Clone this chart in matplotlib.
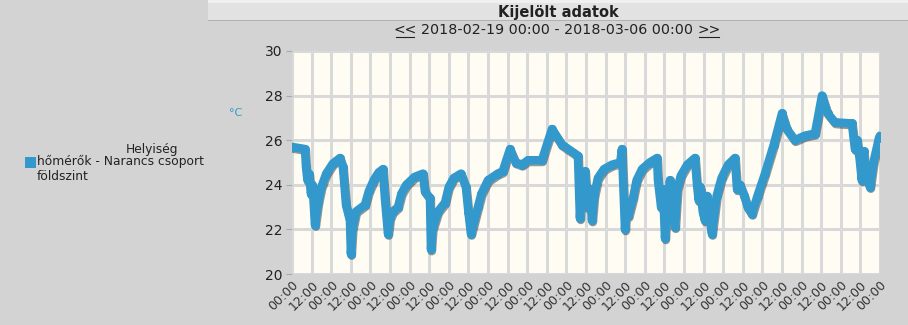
import matplotlib
matplotlib.use("Agg")
import matplotlib.pyplot as plt
import matplotlib.dates as mdates
import matplotlib.patheffects as pe
from matplotlib.patches import Rectangle
import pandas as pd

# ---- data ----
start = "2018-02-19 00:00"
end = "2018-03-06 00:00"
hours = [0, 8.0, 8.6, 9.5, 10.5, 11.6, 12.5, 13.2, 14.1, 16, 18, 21, 25, 29.4, 31.2, 33.1, 35.5,
         36.1, 37, 39.2, 44.7, 47, 50, 53, 55.7, 56.9, 58.8, 60, 61.8, 64.9, 67, 70, 75, 80.2,
         81.4, 84.5, 85.1, 86, 89.4, 93.7, 96, 99, 103.5, 106.5, 108, 109.6, 113.9, 116, 120,
         126, 129, 133.5, 137, 140.8, 144.5, 153.0, 159.2, 165.3, 175.1, 176.3, 177.5, 178.5,
         179.4, 181, 182.5, 183.7, 185, 187.3, 191, 195.9, 201, 202.0, 203.9, 205, 206, 208.8,
         211, 214.3, 219, 223.5, 224.1, 226, 227.2, 228.4, 229.5, 231.4, 233, 234.5, 236, 238,
         242, 246.7, 248, 249, 250, 251.5, 252.8, 254, 255.5, 257.1, 260, 263, 267, 271.2,
         272.5, 274.3, 277, 279, 281.6, 285, 289.6, 295, 300.0, 303, 307.9, 314, 320.2, 324.5,
         328, 332.4, 342.8, 344.7, 346, 347.5, 348.9, 350, 351.5, 353.9, 356, 359.4, 360]
temps = [25.7, 25.6, 24.8, 24.2, 24.5, 23.6, 24.0, 23.3, 22.2, 23.2, 23.9, 24.5, 24.95, 25.2, 24.8,
         23.1, 22.4, 20.9, 22.0, 22.8, 23.1, 23.7, 24.2, 24.55, 24.7, 23.4, 21.8, 22.5, 22.8,
         23.0, 23.6, 24.0, 24.35, 24.5, 23.7, 23.4, 21.1, 22.0, 22.8, 23.2, 23.9, 24.3, 24.5,
         23.9, 22.8, 21.8, 23.0, 23.6, 24.2, 24.5, 24.6, 25.6, 25.0, 24.9, 25.1, 25.1, 26.5,
         25.8, 25.3, 22.5, 24.0, 23.2, 24.6, 23.0, 23.8, 22.4, 23.5, 24.3, 24.7, 24.9, 25.0,
         25.6, 22.0, 23.2, 22.6, 23.4, 24.2, 24.7, 25.0, 25.2, 24.2, 23.0, 23.8, 21.6, 23.0,
         24.2, 23.2, 22.1, 23.8, 24.4, 24.9, 25.2, 24.0, 23.3, 23.9, 22.8, 22.4, 23.5, 22.6,
         21.8, 23.5, 24.3, 24.9, 25.2, 23.8, 24.0, 23.5, 23.0, 22.7, 23.5, 24.5, 25.8, 27.2,
         26.5, 26.0, 26.2, 26.3, 28.0, 27.2, 26.8, 26.75, 25.6, 26.0, 25.2, 24.2, 25.5, 24.4,
         23.9, 25.0, 26.1, 26.2]
assert len(hours) == len(temps)
yticks = [20, 22, 24, 26, 28, 30]
title = "Kijelölt adatok"
legend_title = "Helyiség"
series_name = "hőmérők - Narancs csoport\nföldszint"
unit = "°C"

times = pd.Timestamp(start) + pd.to_timedelta(hours, unit="h")

BG = "#d3d3d3"
BLUE = "#3399cc"
plt.rcParams['font.family'] = ['DejaVu Sans']

fig = plt.figure(figsize=(9.08, 3.25), dpi=100, facecolor=BG)
W, H = 908, 325

# header band
hdr = fig.add_axes([208 / W, 1 - 21 / H, 1 - 208 / W, 21 / H])
hdr.set_xlim(0, 1); hdr.set_ylim(0, 1); hdr.axis("off")
hdr.add_patch(Rectangle((0, 0), 1, 1, facecolor="#e2e2e2", edgecolor="none"))
hdr.add_patch(Rectangle((0, 0.85), 1, 0.15, facecolor="#f0f0f0", edgecolor="none"))
hdr.axhline(0.02, color="#a8a8a8", lw=1.2)
fig.text(558 / W, 1 - 12 / H, title, ha="center", va="center", fontsize=10.5,
         fontweight="bold", color="#222222")

# subtitle with underlined arrows
fig.text(405 / W, 1 - 30 / H, "<<", ha="center", va="center", fontsize=10, color="#222222")
fig.text(709 / W, 1 - 30 / H, ">>", ha="center", va="center", fontsize=10, color="#222222")
fig.add_artist(plt.Line2D([396 / W, 414 / W], [1 - 37 / H] * 2, color="#222222", lw=0.8))
fig.add_artist(plt.Line2D([699 / W, 719 / W], [1 - 37 / H] * 2, color="#222222", lw=0.8))
fig.text(557 / W, 1 - 30 / H, f"{start} - {end}", ha="center", va="center",
         fontsize=10.3, color="#222222")

ax = fig.add_axes([292 / W, 1 - 274 / H, (880 - 292) / W, (274 - 51) / H])
ax.set_facecolor("#fffdf3")
ax.plot(times, temps, color=BLUE, lw=6.2, solid_joinstyle="round", solid_capstyle="round",
        path_effects=[pe.SimpleLineShadow(offset=(0.6, -1.2), shadow_color="black", alpha=0.4),
                      pe.Normal()], zorder=3)
ax.plot(times, temps, color=BLUE, lw=0, marker="o", ms=6.5, markeredgewidth=0, zorder=4)
ax.set_xlim(pd.Timestamp(start), pd.Timestamp(end))
ax.set_ylim(20, 30)
ax.set_yticks(yticks)
ax.xaxis.set_major_locator(mdates.HourLocator(byhour=[0, 12]))
ax.xaxis.set_major_formatter(mdates.DateFormatter("%H:%M"))
ax.grid(True, color="#d9d9d9", lw=2.2)
ax.set_axisbelow(True)
for s in ax.spines.values():
    s.set_visible(False)
ax.tick_params(axis="y", length=4, color="#aaaaaa", labelsize=10, labelcolor="#222222", pad=3)
ax.tick_params(axis="x", length=0, labelsize=9, labelcolor="#333333", pad=3)
for lab in ax.get_xticklabels():
    lab.set_rotation(45)
    lab.set_ha("right")
    lab.set_rotation_mode("anchor")

fig.text(236 / W, 1 - 113 / H, unit, ha="center", va="center", fontsize=8, color=BLUE)

# legend
fig.text(152 / W, 1 - 150 / H, legend_title, ha="center", va="center", fontsize=8.8, color="#222222")
fig.add_artist(Rectangle((25 / W, 1 - 168 / H), 11 / W, 11 / H, facecolor=BLUE, edgecolor="none",
                         transform=fig.transFigure))
fig.text(37 / W, 1 - 155 / H, series_name, ha="left", va="top", fontsize=8.8, color="#222222",
         linespacing=1.2)

fig.savefig("out.png", dpi=100, facecolor=BG)
